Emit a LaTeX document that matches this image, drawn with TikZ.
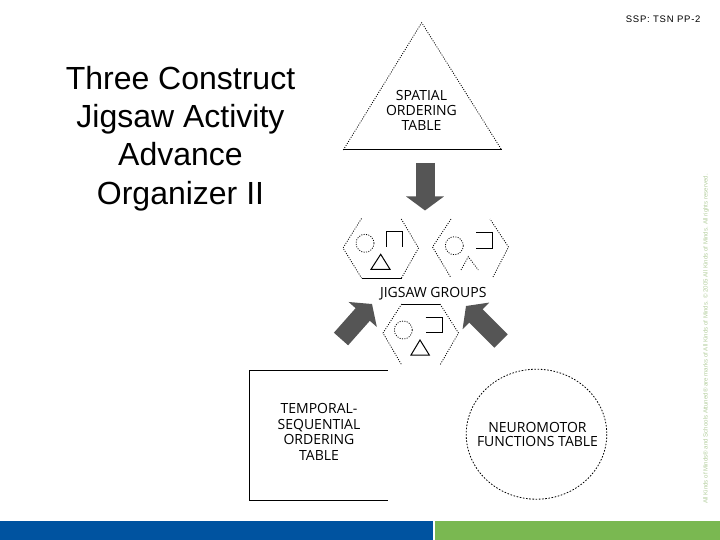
\documentclass[tikz,border=0pt]{standalone}
\usepackage{fontspec}
\setmainfont{Liberation Sans}
\newfontfamily\labelfont{Open Sans}
\usetikzlibrary{arrows.meta}
\definecolor{barblue}{HTML}{0053A0}
\definecolor{bargreen}{HTML}{7AB851}
\definecolor{arrowgray}{HTML}{555555}
\definecolor{copygreen}{HTML}{B3CE9D}
\begin{document}
\begin{tikzpicture}[x=1pt,y=-1pt,
  dotline/.style={line width=0.8pt, dash pattern=on 1pt off 1.4pt},
  solidline/.style={line width=1pt},
  lbl/.style={font=\labelfont\fontsize{14}{14.8}\selectfont, align=center, inner sep=0pt},
  fatarrow/.style={arrowgray, line width=19pt, -{Triangle[width=37pt,length=14pt]}}]
\useasboundingbox[fill=white] (0,0) rectangle (720,540);

% header and title
\node[anchor=east, inner sep=0pt, font=\fontsize{9.5}{10}\selectfont\addfontfeature{LetterSpace=8}] (hdr) at (700.7,19) {SSP: TSN PP-2};
\node[align=center, inner sep=0pt, font=\fontsize{32}{38.3}\selectfont] (title) at (180.5,138.5)
  {Three Construct\\Jigsaw Activity\\Advance\\Organizer II};

% copyright (vertical)
\node[rotate=90, inner sep=0pt, text=copygreen, font=\fontsize{6.1}{6.5}\selectfont] (copy) at (706,339)
  {All Kinds of Minds® and Schools Attuned® are marks of All Kinds of Minds. © 2005 All Kinds of Minds. All rights reserved.};

% spatial triangle
\coordinate (tA) at (421.7,22.7);
\coordinate (tL) at (343.3,150);
\coordinate (tR) at (501.7,150);
\draw[dotline] (tL) -- (tA) -- (tR);
\draw[solidline] (tL) -- (tR);
\node[lbl] (spatial) at (421.5,110.5) {SPATIAL\\ORDERING\\TABLE};

% hexagon 1
\draw[dotline] (361.5,218.5) -- (343,248) -- (361.5,278);
\draw[dotline] (401.5,278) -- (418.5,248) -- (401,218.5);
\draw[solidline] (361.5,278) -- (401.5,278);
\draw[dotline] (365,243.3) circle[radius=9];
\draw[solidline] (386.7,246.7) -- (386.7,231.7) -- (402.7,231.7) -- (402.7,246.7);
\draw[solidline] (380.7,254.3) -- (371,269.3) -- (390,269.3) -- cycle;

% hexagon 2
\draw[dotline] (451,219) -- (432.5,247) -- (450.5,277);
\draw[dotline] (493,277) -- (508.5,247) -- (490,219);
\draw[dotline] (454.3,245.7) circle[radius=9];
\draw[solidline] (476,232.3) -- (492.7,232.3) -- (492.7,248.3) -- (476,248.3);
\draw[dotline] (461,270) -- (468.3,256.7) -- (478.3,270);

% jigsaw label
\node[lbl] (jigsaw) at (433.3,293.3) {JIGSAW GROUPS};

% hexagon 3
\draw[solidline] (401.7,304) -- (440,304);
\draw[dotline] (401.7,304) -- (383,333) -- (401.7,365);
\draw[dotline] (440,304) -- (458.5,333) -- (440,365);
\draw[dotline] (403.3,330) circle[radius=9];
\draw[solidline] (425.7,317.3) -- (442.7,317.3) -- (442.7,332.3) -- (425.7,332.3);
\draw[solidline] (420,340) -- (411,355) -- (429.3,355) -- cycle;

% temporal box
\draw[solidline] (387.7,370.7) -- (249.3,370.7) -- (249.3,500) -- (387.7,500);
\node[lbl, font=\labelfont\fontsize{14}{15.6}\selectfont] (temporal) at (319,432) {TEMPORAL-\\SEQUENTIAL\\ORDERING\\TABLE};

% neuromotor ellipse
\draw[dotline, dash pattern=on 1.6pt off 1.6pt] (536.5,434.2) ellipse[x radius=70.3, y radius=65];
\node[lbl] (neuro) at (537.5,434.5) {NEUROMOTOR\\FUNCTIONS TABLE};

% fat arrows
\coordinate (a1s) at (425,163);
\coordinate (a1e) at (425,210.5);
\coordinate (a2s) at (341,339);
\coordinate (a2e) at (372,304);
\coordinate (a3s) at (501,341);
\coordinate (a3e) at (466,306);
\draw[fatarrow] (a1s) -- (a1e);
\draw[fatarrow] (a2s) -- (a2e);
\draw[fatarrow] (a3s) -- (a3e);

% bottom bars
\fill[barblue] (0,521) rectangle (433,540);
\fill[bargreen] (435,521) rectangle (720,540);
\end{tikzpicture}
\end{document}
